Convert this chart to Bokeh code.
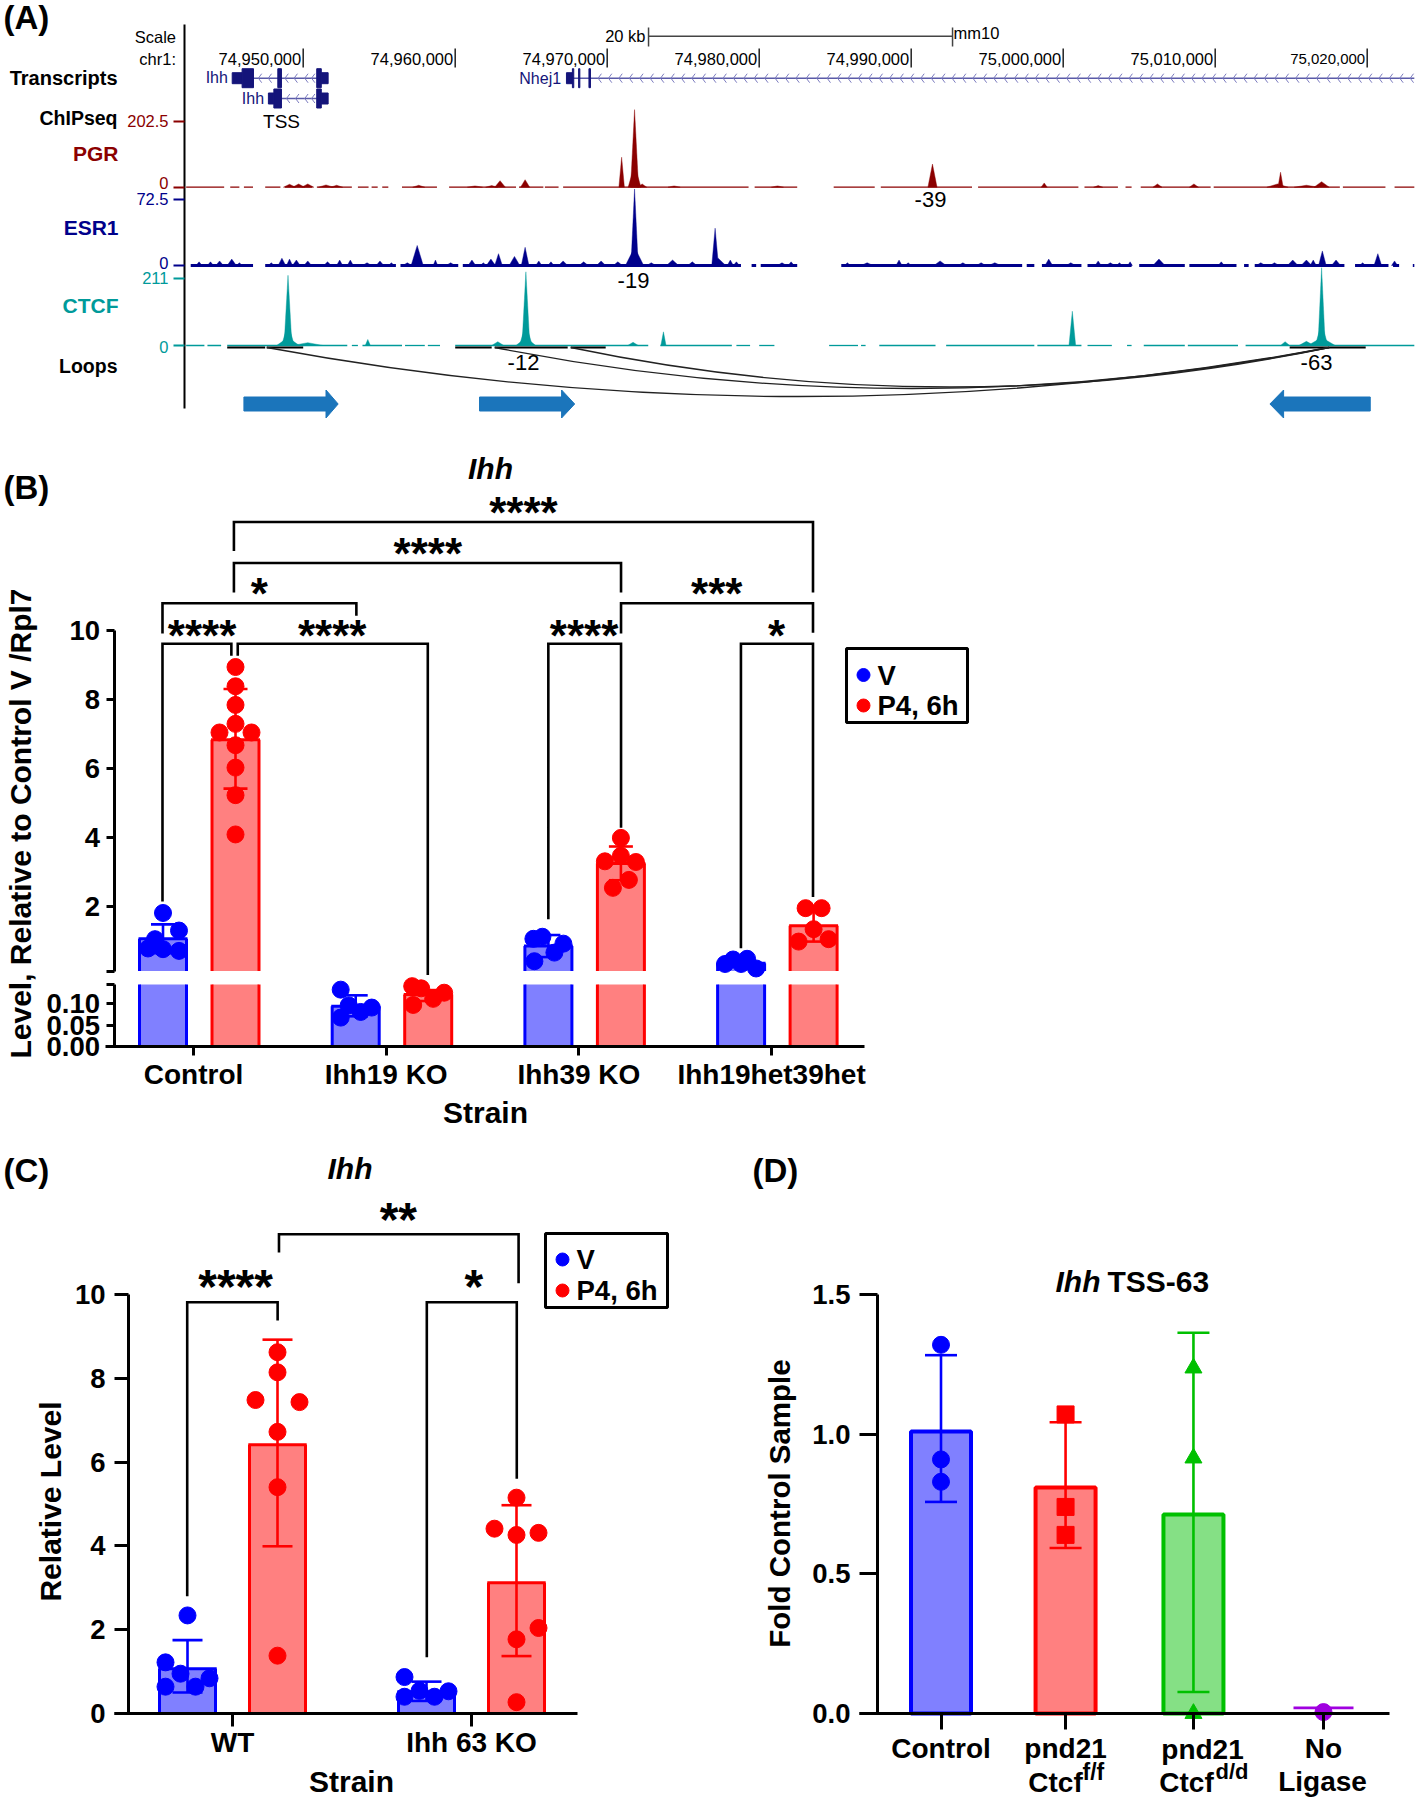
import numpy as np
from bokeh.plotting import figure
from bokeh.layouts import column, row
from bokeh.models import Range1d, LinearAxis, FixedTicker, Label
from bokeh.embed import file_html
from bokeh.resources import INLINE

FONT = "Liberation Sans"
# ------------------------------------------------------------------ data
# Panel A (positions in kb relative to 74,950,000)
COORD_KB = [0, 10, 20, 30, 40, 50, 60, 70]
COORD_LABELS = ["74,950,000", "74,960,000", "74,970,000", "74,980,000", "74,990,000",
                "75,000,000", "75,010,000", "75,020,000"]
SCALE_KB = (22.72, 42.72)
PGR_FRAGS = [(-7.7,-5.2),(-4.8,-4.2),(-3.9,-3.3),(-2.5,-1.5),(-1.2,0.6),(0.9,3.2),(3.6,4.3),(4.5,4.9),(5.2,5.6),
             (6.5,8.8),(9.6,14),(14.2,15.8),(15.9,16.8),(17.1,29.3),(29.7,32.5),(34.9,37.6),(38.0,44.0),(44.4,51.0),
             (51.4,53.6),(54.1,54.5),(55.1,59.7),(59.9,68.2),(68.4,71.2),(71.8,73.1)]
PGR_PEAKS = [(21.8,238,.26),(21.8,70,.42),(20.95,92,.18),(12.95,20,.35),(14.6,23,.3),(-.9,9,.4),(-.3,10,.4),(.3,10,.4),
             (1.5,7,.5),(2.2,6,.4),(7.6,6,.4),(11.3,4,.5),(12.4,5,.4),(22.3,10,.3),(24.4,4,.4),(41.4,71,.3),(48.75,13,.2),
             (56.2,10,.3),(58.6,10,.3),(52.3,5,.3),(64.3,46,.17),(64.1,10,.7),(67,17,.5),(66,6,.8),(31.2,4,.4)]
ESR_FRAGS = [(-7.4,-3.3),(-2.5,6.1),(6.4,10.2),(10.5,28.8),(29.5,29.8),(30.1,32.5),(35.4,47.3),(47.6,48.1),(48.6,51.2),
             (51.6,54.5),(55,58),(58.3,61.4),(61.9,62.2),(62.6,68.5),(69.2,71.4),(71.7,72.1),(73,73.1)]
ESR_PEAKS = [(21.8,84,.24),(21.8,20,.6),(27.1,41,.22),(27.3,8,.5),(7.5,22,.4),(12.85,13,.25),(14.6,20,.25),(13.9,10,.35),(12.35,7,.3),
             (-6.85,4,.2),(-6.1,4,.2),(-5.5,5,.25),(-4.7,7,.3),(-4.2,3,.2),(-2.1,3,.2),(-1.4,8,.25),(-.9,7,.2),(-.45,6,.25),(.3,5,.25),
             (1.6,4,.25),(2.4,6,.2),(3.1,6,.2),(4.2,3,.3),(5.05,5,.25),(5.8,3,.2),(6.85,3,.3),(8.7,6,.15),(9.7,3,.3),(11.1,6,.25),
             (11.85,3,.2),(15.5,5,.2),(16.3,4,.2),(17.1,5,.3),(18.45,4,.3),(19.6,5,.3),(20.7,4,.3),(22.9,3,.3),(24.3,6,.4),(25.6,4,.3),
             (28.1,6,.2),(28.5,4,.2),(31.5,3,.3),(32.1,4,.2),(35.8,3,.2),(37.1,3,.4),(39.2,6,.2),(39.8,3,.2),(41.9,5,.4),(43.4,3,.3),
             (44.6,3,.3),(45.5,3,.4),(49.05,7,.25),(50.5,3,.3),(52.3,5,.2),(53.1,3,.3),(53.7,3,.2),(54.4,4,.15),(56.3,7,.4),(60.4,4,.2),
             (63,3,.3),(63.9,3,.3),(65.1,6,.35),(66,6,.35),(66.45,6,.2),(67.05,16,.25),(67.95,6,.3),(69.7,3,.2),(70.7,13,.25),(71.8,5,.2)]
CTCF_FRAGS = [(-7.7,-6.5),(-6.3,-5.4),(-5.0,2.9),(3.2,3.6),(3.9,6.5),(6.7,8.0),(8.2,9.0),(10,22.7),(23.5,28.2),(28.5,29.4),(30,31),
              (34.6,36.5),(36.7,37),(37.9,41.6),(42.3,48.1),(48.3,51.2),(51.6,53.2),(54.2,54.5),(55.3,58),(58.2,61.5),(62,73.1)]
CTCF_PEAKS = [(-1.0,221,.26),(-1.0,70,.42),(-1.0,25,.75),(14.65,232,.26),(14.65,70,.42),(14.65,25,.65),(23.7,43,.17),(21.7,10,.35),(12.8,12,.4),(4.25,19,.17),
              (.3,9,1),(50.6,108,.22),(67,245,.24),(67,70,.42),(67,25,.9),(66,13,.5),(64.6,12,.3)]
LOOP_BARS = [(-5,-2.5),(-2.4,0),(10,12.4),(12.6,17.4),(17.6,19.9),(64.9,69.9)]
LOOP_LEFT = [-2.4, 12.6, 17.6]
LOOP_RIGHT = 67.5
LOOP_LOW = [396, 388, 386.5]
ARROW_SPEC = [(-3.9,2.3,1.5),(11.6,17.86,17.0),(70.2,63.6,64.5)]
# Panel B
B_GROUPS = ["Control", "Ihh19 KO", "Ihh39 KO", "Ihh19het39het"]
B_V_MEAN = [1.05, 0.093, 0.84, 0.34]
B_V_UP = [1.47, 0.118, 1.16, 0.42]
B_V_LO = [0.63, 0.07, 0.52, 0.26]
B_P_MEAN = [6.83, 0.12, 3.24, 1.43]
B_P_UP = [8.3, 0.13, 3.73, 1.9]
B_P_LO = [5.41, 0.105, 2.75, 0.97]
B_V_DOTS = [[1.80,1.29,1.04,0.77,0.75,0.70],[0.131,0.095,0.067,0.08,0.09],[1.05,1.11,0.40,0.65,0.91],[0.32,0.45,0.47,0.19,0.32]]
B_V_JIT = [[0,16,-8,-15,0,16],[-15,-7,-15,5,16],[-15,-6,-14,6,15],[-16,-8,6,15,0]]
B_P_DOTS = [[8.94,8.38,7.84,7.29,6.67,6.02,5.22,4.08,7.04,7.04],[0.139,0.134,0.096,0.11,0.124],[3.98,3.46,3.30,3.28,2.76,2.53],[1.94,1.94,1.33,0.97,1.04]]
B_P_JIT = [[0,0,0,0,0,0,0,0,-16,16],[-16,-7,-15,5,16],[0,0,-16,15,8,-8],[-8,8,0,-15,15]]
# Panel C
C_GROUPS = ["WT", "Ihh 63 KO"]
C_V_MEAN = [1.07, 0.52]
C_V_UP = [1.75, 0.76]
C_V_LO = [0.5, 0.3]
C_P_MEAN = [6.41, 3.12]
C_P_UP = [8.92, 4.97]
C_P_LO = [3.99, 1.37]
C_V_DOTS = [[2.34,1.22,0.95,0.84,0.64,0.64],[0.87,0.54,0.53,0.40,0.40]]
C_V_JIT = [[0,-22,-7,22,-22,8],[-22,-7,22,-22,8]]
C_P_DOTS = [[8.62,8.14,7.48,7.43,6.72,5.40,1.38],[5.15,4.41,4.31,4.26,2.04,1.77,0.27]]
C_P_JIT = [[0,0,-22,22,0,0,0],[0,-22,22,0,22,0,0]]
# Panel D
D_CATS = ["Control", "pnd21", "", "No"]
D_POS = [0, 0.977, 1.98, 3]
D_MEAN = [1.009, 0.809, 0.712, 0.01]
D_UP = [1.282, 1.042, 1.362, 0.02]
D_LO = [0.757, 0.592, 0.077, 0.0]
D_POINTS = [[1.319,0.909,0.829],[1.07,0.739,0.639],[1.236,0.914,0.0],[0.005]]
D_MARK = ["circle", "square", "triangle", "circle"]
D_LINE = ["#0000ff", "#ff0000", "#00c000", "#a000e0"]
D_FILL = ["#8080ff", "#ff8080", "#85e085", "#a000e0"]

BLUE, RED = "#0000ff", "#ff0000"
BLUEF, REDF = "#8080ff", "#ff8080"
DKRED, NAVY, TEAL = "#8b0000", "#00008b", "#009a9a"
GENE = "#14147a"

boxes = {}
def mk(cl, cr, ct, cb, xfn, yfn):
    """A figure whose frame fills its whole canvas, so nothing is clipped."""
    xr, yr = (xfn(cl), xfn(cr)), (yfn(cb), yfn(ct))
    p = figure(width=cr-cl, height=cb-ct, min_border_left=0, min_border_right=0, min_border_top=0, min_border_bottom=0,
               x_range=Range1d(*xr), y_range=Range1d(*yr), x_axis_location=None, y_axis_location=None,
               toolbar_location=None, tools="", output_backend="svg")
    p.outline_line_color = None
    p.grid.visible = False
    p.background_fill_color = None
    p.border_fill_color = None
    boxes[p.id] = (xfn, yfn)
    return p
def X(p, px): return boxes[p.id][0](px)
def Y(p, py): return boxes[p.id][1](py)
def lab(p, px, py, text, size=27, style="bold", color="black", align="center", angle=0, base="middle"):
    p.add_layout(Label(x=X(p, px), y=Y(p, py), text=text, text_font=FONT, text_font_size=f"{size}px",
                       text_font_style=style, text_color=color, text_align=align, text_baseline=base, angle=angle))
def yaxis(p, at_px, ticks, bounds, size=27.5, style="bold", tick_out=8, standoff=6, width=3, overrides=None, color="black",
          axcolor="black", rn=None):
    kw = dict(y_range_name=rn) if rn else {}
    a = LinearAxis(ticker=FixedTicker(ticks=ticks), bounds=bounds, fixed_location=X(p, at_px), **kw)
    a.major_label_text_font = FONT
    a.major_label_text_font_size = f"{size}px"
    a.major_label_text_font_style = style
    a.major_label_text_color = color
    a.major_tick_in = 0
    a.major_tick_out = tick_out
    a.minor_tick_line_color = None
    a.major_tick_line_width = width
    a.axis_line_width = width
    a.axis_line_color = axcolor
    a.major_tick_line_color = color
    a.major_label_standoff = standoff
    if overrides:
        a.major_label_overrides = overrides
    p.add_layout(a, "left")
    return a
def xaxis(p, at_val, ticks, labels, bound, tick_out, standoff, size=28, rn=None):
    kw = dict(y_range_name=rn) if rn else {}
    a = LinearAxis(ticker=FixedTicker(ticks=ticks), bounds=bound, fixed_location=at_val, **kw)
    a.major_label_overrides = {t: l for t, l in zip(ticks, labels)}
    a.major_label_text_font = FONT
    a.major_label_text_font_size = f"{size}px"
    a.major_label_text_font_style = "bold"
    a.major_label_text_color = "black"
    a.major_tick_in = 0
    a.major_tick_out = tick_out
    a.minor_tick_line_color = None
    a.major_tick_line_width = 3
    a.axis_line_width = 3
    a.major_tick_line_color = "black"
    a.major_label_standoff = standoff
    p.add_layout(a, "below")
    return a
def bracket(p, x0, x1, ytop, y0, y1, w=2.6):
    p.line([X(p, x0), X(p, x0), X(p, x1), X(p, x1)], [Y(p, y0), Y(p, ytop), Y(p, ytop), Y(p, y1)],
           line_color="black", line_width=w, line_join="miter")
def legend(p, box, ys, xd, xt):
    l, r, t, b = box
    p.quad(left=[X(p, l)], right=[X(p, r)], top=[Y(p, t)], bottom=[Y(p, b)], fill_color=None, line_color="black", line_width=3)
    for py, c, s in zip(ys, (BLUE, RED), ("V", "P4, 6h")):
        p.scatter([X(p, xd)], [Y(p, py)], size=13, color=c)
        lab(p, xt, py, s, 27.5, align="left")

# ------------------------------------------------------------------ Panel A
KB_PX = 15.2
KB0_PX = 302.7
AX = 184
a_ = mk(0, 1418, 0, 442, lambda px: (px-KB0_PX)/KB_PX, lambda py: py)
yaxis(a_, AX, [], (24, 408), width=2)
lab(a_, 3, 17, "(A)", 33, align="left")
lab(a_, 175.5, 36.5, "Scale", 16.5, "normal", align="right")
lab(a_, 175.5, 58, "chr1:", 16.5, "normal", align="right")
lab(a_, 117, 77, "Transcripts", 20, align="right")
a_.segment(COORD_KB, [48]*8, COORD_KB, [67]*8, line_color="#222222", line_width=1.5)
for k, t in zip(COORD_KB, COORD_LABELS):
    lab(a_, KB0_PX + k*KB_PX - 2, 58, t, 15 if k == 70 else 16.5, "normal", align="right")
a_.segment([SCALE_KB[0]], [35.7], [SCALE_KB[1]], [35.7], line_color="#444444", line_width=1.5)
a_.segment(list(SCALE_KB), [27, 27], list(SCALE_KB), [46, 46], line_color="#444444", line_width=1.5)
lab(a_, 645, 35.5, "20 kb", 16.5, "normal", align="right")
lab(a_, 953, 32, "mm10", 16.5, "normal", align="left")
def gene(p, yc, thin, thick, intron, chev):
    p.segment([intron[0]], [yc], [intron[1]], [yc], line_color="#5a5aa8", line_width=1.5)
    xs = [[c+.22, c, c+.22] for c in chev]
    ys = [[yc-4.5, yc, yc+4.5] for c in chev]
    p.multi_line(xs, ys, line_color="#7c7cc0", line_width=1)
    if thin:
        p.quad(left=[a for a, b in thin], right=[b for a, b in thin], top=[yc-5.5]*len(thin), bottom=[yc+5.5]*len(thin), color=GENE)
    p.quad(left=[a for a, b in thick], right=[b for a, b in thick], top=[yc-9.5]*len(thick), bottom=[yc+9.5]*len(thick), color=GENE)
gene(a_, 77.7, [(-4.67,-4.02),(1.19,1.64)], [(-4.02,-3.27),(-1.67,-1.43),(.89,1.19)], (-3.27,.89), [-2.95,-2.3,-1.2,-.6,.1,.55])
gene(a_, 98, [(-2.29,-1.93),(1.19,1.64)], [(-1.93,-1.43),(.89,1.19)], (-1.43,.89), [-1.1,-.5,.1,.55])
gene(a_, 77.7, [(17.32,17.71)], [(17.71,17.8),(18.12,18.2),(18.8,18.9)], (17.71,73.1), list(np.arange(19.4, 73.1, .685)))
lab(a_, 227.4, 77, "Ihh", 16, "normal", GENE, align="right")
lab(a_, 263.6, 98, "Ihh", 16, "normal", GENE, align="right")
lab(a_, 560.6, 78, "Nhej1", 16, "normal", GENE, align="right")

def track(rn, zero_px, val_per_px, top_val, color, name, name_py, zero_label_py, frags, peaks, base_w):
    p = a_
    p.extra_y_ranges[rn] = Range1d((zero_px-442)*val_per_px, zero_px*val_per_px)
    yaxis(p, AX, [0, top_val], (0, top_val), 16.5, "normal", tick_out=11, standoff=5, width=2, color=color, axcolor=None,
          overrides={0: ""}, rn=rn)
    p.segment([s for s, e in frags], [0]*len(frags), [e for s, e in frags], [0]*len(frags), line_color=color, line_width=base_w, y_range_name=rn)
    p.patches([[c-w, c, c+w] for c, v, w in peaks], [[0, v, 0] for c, v, w in peaks], color=color, line_width=.4, y_range_name=rn)
    lab(p, 118, name_py, name, 21, color=color, align="right")
    lab(p, 168, zero_label_py, "0", 16.5, "normal", color, align="right")
track("pgr", 186.7, 3.068, 202.5, DKRED, "PGR", 153, 182.7, PGR_FRAGS, PGR_PEAKS, 1.3)
track("esr", 265, 1.098, 72.5, NAVY, "ESR1", 227, 262.7, ESR_FRAGS, ESR_PEAKS, 3)
track("ctcf", 345, 3.149, 211, TEAL, "CTCF", 305, 346, CTCF_FRAGS, CTCF_PEAKS, 1.3)
lab(a_, 117, 117, "ChIPseq", 19.5, align="right")
lab(a_, 117, 365, "Loops", 19.5, align="right")
lab(a_, 281, 121, "TSS", 19, "normal")
lab(a_, 930, 199, "-39", 22, "normal")
lab(a_, 633, 280, "-19", 22, "normal")
lab(a_, 523, 362, "-12", 22, "normal")
lab(a_, 1316, 362, "-63", 22, "normal")
a_.segment([s for s, e in LOOP_BARS], [347]*6, [e for s, e in LOOP_BARS], [347]*6, line_color="black", line_width=1.8)
a_.quadratic(x0=LOOP_LEFT, y0=[347]*3, x1=[LOOP_RIGHT]*3, y1=[347]*3,
             cx=[(l+LOOP_RIGHT)/2 for l in LOOP_LEFT], cy=[2*low-347 for low in LOOP_LOW], line_color="#222222", line_width=1.3)
a_.patches([[s, m, m, e, m, m, s] for s, e, m in ARROW_SPEC],
           [[396.5, 396.5, 389.5, 403.5, 417.5, 410.5, 410.5] for _ in ARROW_SPEC], color="#1b75bb")

# ------------------------------------------------------------------ Panel B
def v_up(py): return 10-(py-630)/34.45
def v_lo(py): return (1046.4-py)/437.0
GX, GS = 193, 192.7
OFF, HW, CAP = 36.25/GS, 23.5/GS, 12/GS
SHIFT = 5.75/GS
BREAK_HI = v_up(970.5)
BREAK_LO = v_lo(984)
b = mk(0, 1418, 442, 1128, lambda px: (px-GX)/GS, v_up)
b.extra_y_ranges["lo"] = Range1d(v_lo(1128), v_lo(442))
yaxis(b, 113.5, [BREAK_HI, 2, 4, 6, 8, 10], (BREAK_HI, 10), overrides={BREAK_HI: ""})
yaxis(b, 113.5, [0, .05, .10, BREAK_LO], (0, BREAK_LO), overrides={0: "0.00", .05: "0.05", .10: "0.10", BREAK_LO: ""}, rn="lo")
xaxis(b, 0, [0, 1, 2, 3], B_GROUPS, ((105-GX)/GS, (864-GX)/GS), 9, 3, rn="lo")

def bars(p, xs, mean, upv, lov, dots, jit, line, fill, scale, floor, ceil, hw, cap, size=17, rn="default"):
    for x, m, u, d, ys, js in zip(xs, mean, upv, lov, dots, jit):
        top = min(m, ceil)
        p.quad(left=[x-hw], right=[x+hw], bottom=[floor], top=[top], fill_color=fill, line_color=None, y_range_name=rn)
        p.segment([x-hw, x+hw], [floor]*2, [x-hw, x+hw], [top]*2, line_color=line, line_width=3, y_range_name=rn)
        if m <= ceil:
            p.segment([x-hw-.005], [m], [x+hw+.005], [m], line_color=line, line_width=3, y_range_name=rn)
            p.segment([x], [d], [x], [u], line_color=line, line_width=2.6, y_range_name=rn)
            p.segment([x-cap, x-cap], [u, d], [x+cap, x+cap], [u, d], line_color=line, line_width=2.6, y_range_name=rn)
            p.scatter([x+j/scale for j in js], ys, size=size, color=line, y_range_name=rn)

V_x = [g+SHIFT-OFF for g in range(4)]
P_x = [g+SHIFT+OFF for g in range(4)]
for floor, ceil, sel, rn in ((BREAK_HI, 99, (0, 2, 3), "default"), (0, BREAK_LO, (0, 1, 2, 3), "lo")):
    for xs, mean, u, d, dots, jit, line, fill in ((V_x, B_V_MEAN, B_V_UP, B_V_LO, B_V_DOTS, B_V_JIT, BLUE, BLUEF),
                                                  (P_x, B_P_MEAN, B_P_UP, B_P_LO, B_P_DOTS, B_P_JIT, RED, REDF)):
        bars(b, [xs[i] for i in sel], [mean[i] for i in sel], [u[i] for i in sel], [d[i] for i in sel],
             [dots[i] for i in sel], [jit[i] for i in sel], line, fill, GS, floor, ceil, HW, CAP, rn=rn)

BY = lambda z: z/2.24+450
BX = lambda z: z/1.568
for x0, x1, yt, y0, y1 in [(366,1274,160,225,318),(366,973,252,318,318),(254,558,342,410,370),(973,1274,342,410,408),
                           (254,362,433,1010,460),(372,670,433,460,1175),(859,973,433,1050,845),(1161,1274,433,1115,1000)]:
    bracket(b, BX(x0), BX(x1), BY(yt), BY(y0), BY(y1))
for zx, zy, s in [(820,125,"****"),(670,217,"****"),(406,307,"*"),(1123,307,"***"),(316,400,"****"),(520,400,"****"),(915,400,"****"),(1217,400,"*")]:
    lab(b, BX(zx), BY(zy)+6, s, 44)
lab(b, 3, 486.5, "(B)", 33, align="left")
lab(b, 490, 468, "Ihh", 30, "bold italic")
lab(b, 20, 823, "Level, Relative to Control V /Rpl7", 30, angle=np.pi/2)
lab(b, 485, 1112, "Strain", 30)
legend(b, (846, 967, 648, 722), (674.5, 705), 863, 877)

# ------------------------------------------------------------------ Panel C
CX, CS = 232, 239.0
def v_c(py): return (1713-py)/41.91
c = mk(0, 709, 1128, 1800, lambda px: (px-CX)/CS, v_c)
yaxis(c, 128, [0, 2, 4, 6, 8, 10], (0, 10), tick_out=14, standoff=9)
xaxis(c, 0, [0, 1], C_GROUPS, ((114-CX)/CS, (577-CX)/CS), 13, 0)
COFF, CHW, CCAP = 45/CS, 28/CS, 15/CS
bars(c, [g-COFF for g in (0, 1)], C_V_MEAN, C_V_UP, C_V_LO, C_V_DOTS, C_V_JIT, BLUE, BLUEF, CS, 0, 99, CHW, CCAP)
bars(c, [g+COFF for g in (0, 1)], C_P_MEAN, C_P_UP, C_P_LO, C_P_DOTS, C_P_JIT, RED, REDF, CS, 0, 99, CHW, CCAP)
CZX = lambda z: z/2.212
CZY = lambda z: z/2.412+1150
for x0, x1, yt, y0, y1 in [(413,613,366,1075,410),(943,1142,366,1222,792),(616,1146,202,246,320)]:
    bracket(c, CZX(x0), CZX(x1), CZY(yt), CZY(y0), CZY(y1))
for zx, zy, s in [(520,313,"****"),(1047,313,"*"),(880,150,"**")]:
    lab(c, CZX(zx), CZY(zy)+6.5, s, 48)
lab(c, 3, 1169.5, "(C)", 33, align="left")
lab(c, 349.5, 1168, "Ihh", 30, "bold italic")
lab(c, 50, 1501, "Relative Level", 30, angle=np.pi/2)
lab(c, 351, 1781, "Strain", 30)
legend(c, (545, 667, 1233, 1307), (1259, 1290), 562, 576)

# ------------------------------------------------------------------ Panel D
DX, DS = 940.5, 127.5
def v_d(py): return (1713-py)/279.5
d = mk(709, 1418, 1128, 1800, lambda px: (px-DX)/DS, v_d)
yaxis(d, 877, [0, .5, 1, 1.5], (0, 1.5), overrides={0: "0.0", .5: "0.5", 1: "1.0", 1.5: "1.5"}, tick_out=18, standoff=9)
xaxis(d, 0, D_POS, D_CATS, ((859-DX)/DS, (1389-DX)/DS), 16, 3)
DHW, DCAP = 30/DS, 16/DS
for i, x in enumerate(D_POS):
    if i < 3:
        d.quad(left=[x-DHW], right=[x+DHW], bottom=[0], top=[D_MEAN[i]], fill_color=D_FILL[i], line_color=D_LINE[i], line_width=4)
    cap = DCAP if i < 3 else DHW
    d.segment([x], [D_LO[i]], [x], [D_UP[i]], line_color=D_LINE[i], line_width=2.6)
    d.segment([x-cap, x-cap], [D_UP[i], D_LO[i]], [x+cap, x+cap], [D_UP[i], D_LO[i]], line_color=D_LINE[i], line_width=2.6)
    d.scatter([x]*len(D_POINTS[i]), D_POINTS[i], marker=D_MARK[i], size=17, color=D_LINE[i])
lab(d, 752, 1169.5, "(D)", 33, align="left")
lab(d, 1055, 1281, "Ihh", 30, "bold italic", align="left")
lab(d, 1107, 1281, "TSS-63", 30, align="left")
lab(d, 779, 1503, "Fold Control Sample", 29.5, angle=np.pi/2)
lab(d, 1202, 1749, "pnd21", 28)
lab(d, 1055, 1782, "Ctcf", 28)
lab(d, 1082, 1771, "f/f", 23, align="left")
lab(d, 1186, 1782, "Ctcf", 28)
lab(d, 1215, 1771, "d/d", 22, align="left")
lab(d, 1322, 1781, "Ligase", 28)

page = column(a_, b, row(c, d, spacing=0), spacing=0)
open("out.html", "w").write(file_html(page, INLINE))
